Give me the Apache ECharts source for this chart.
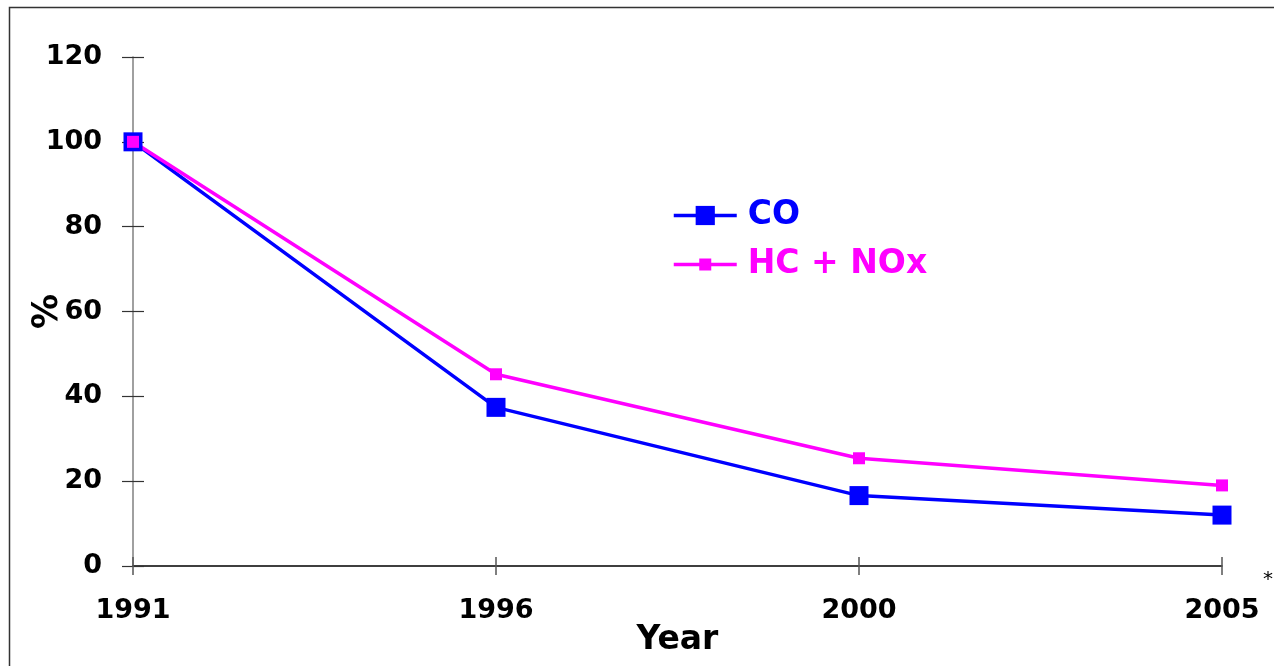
<!DOCTYPE html>
<html>
<head>
<meta charset="utf-8">
<script src="https://cdn.jsdelivr.net/npm/echarts@6/dist/echarts.min.js"></script>
<style>
html,body{margin:0;padding:0;background:#fff;}
#chart{width:1274px;height:666px;}
</style>
</head>
<body>
<div id="chart"></div>
<script>
const years = ['1991', '1996', '2000', '2005'];
const coValues = [100, 37.4, 16.6, 12.0];
const hcNoxValues = [100, 45.2, 25.4, 19.0];
const yTicks = { min: 0, max: 120, interval: 20 };
const seriesNames = ['CO', 'HC + NOx'];
const colors = ['#0000FF', '#FF00FF'];

const FONT = 'DejaVu Sans';
const legendText = { fontFamily: FONT, fontWeight: 'bold', fontSize: 33, padding: [0, 0, 0, 6] };
const chart = echarts.init(document.getElementById('chart'));
chart.setOption({
  backgroundColor: '#fff',
  animation: false,
  grid: { left: 133, right: 52, top: 57, bottom: 100, outerBoundsMode: 'none', containLabel: false },
  legend: [{
    left: 672, top: 199, padding: 0,
    itemWidth: 63, itemHeight: 24,
    lineStyle: { width: 3.5 },
    data: [{ name: seriesNames[0], textStyle: { color: colors[0] } }],
    textStyle: legendText
  }, {
    left: 672, top: 248, padding: 0,
    itemWidth: 63, itemHeight: 15,
    lineStyle: { width: 3.5 },
    data: [{ name: seriesNames[1], textStyle: { color: colors[1] } }],
    textStyle: legendText
  }],
  xAxis: [{
    type: 'category', data: years, boundaryGap: false,
    axisLine: { lineStyle: { color: '#000', width: 1.5 } },
    axisTick: { length: 9, lineStyle: { color: '#555', width: 1.5 } },
    axisLabel: { fontFamily: FONT, fontWeight: 'bold', fontSize: 27, color: '#000', margin: 31 },
    name: 'Year', nameLocation: 'middle', nameGap: 58, nameMoveOverlap: false,
    nameTextStyle: { fontFamily: FONT, fontWeight: 'bold', fontSize: 33, color: '#000' }
  }, {
    type: 'category', data: years, boundaryGap: false, position: 'bottom',
    axisLine: { show: false },
    axisTick: { inside: true, length: 9, lineStyle: { color: '#555', width: 1.5 } },
    axisLabel: { show: false }
  }],
  yAxis: [{
    type: 'value', min: yTicks.min, max: yTicks.max, interval: yTicks.interval,
    axisLine: { show: true, lineStyle: { color: '#808080', width: 1.5 } },
    axisTick: { show: true, length: 11, lineStyle: { color: '#333', width: 1.2 } },
    splitLine: { show: false },
    axisLabel: { fontFamily: FONT, fontWeight: 'bold', fontSize: 27, color: '#000', margin: 31 },
    name: '%', nameLocation: 'middle', nameGap: 68, nameRotate: 90, nameMoveOverlap: false,
    nameTextStyle: { fontFamily: FONT, fontWeight: 'bold', fontSize: 35, color: '#000' }
  }, {
    type: 'value', min: yTicks.min, max: yTicks.max, interval: yTicks.interval, position: 'left',
    axisLine: { show: false },
    axisTick: { show: true, inside: true, length: 11, lineStyle: { color: '#333', width: 1.2 } },
    splitLine: { show: false },
    axisLabel: { show: false }
  }],
  series: [{
    name: seriesNames[0], type: 'line', data: coValues,
    symbol: 'rect', symbolSize: 19, clip: false,
    lineStyle: { color: colors[0], width: 3.5 },
    itemStyle: { color: colors[0] }
  }, {
    name: seriesNames[1], type: 'line', data: hcNoxValues,
    symbol: 'rect', symbolSize: 12, clip: false,
    lineStyle: { color: colors[1], width: 3.5 },
    itemStyle: { color: colors[1] }
  }],
  graphic: [
    { type: 'rect', left: 7, top: 5, shape: { width: 1300, height: 700 },
      style: { fill: 'none', stroke: '#333', lineWidth: 1.5 }, silent: true },
    { type: 'text', left: 1263, top: 570,
      style: { text: '*', font: '20px "DejaVu Sans"', fill: '#000' } }
  ]
});
</script>
</body>
</html>
